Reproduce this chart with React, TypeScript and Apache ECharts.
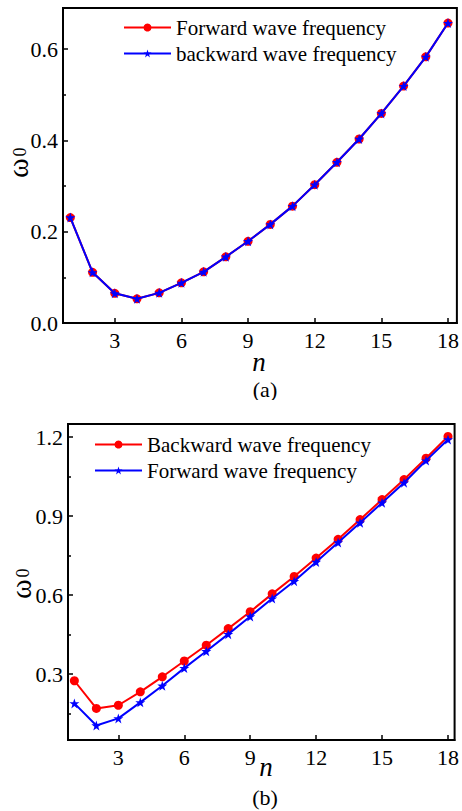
import React, { useEffect, useRef } from "react";
import * as echarts from "echarts";

const nValues = [1, 2, 3, 4, 5, 6, 7, 8, 9, 10, 11, 12, 13, 14, 15, 16, 17, 18];
const aForward = [0.231, 0.111, 0.065, 0.053, 0.066, 0.088, 0.112, 0.145, 0.179, 0.216, 0.256, 0.303, 0.352, 0.403, 0.459, 0.519, 0.583, 0.657];
const aBackward = [0.231, 0.111, 0.065, 0.053, 0.066, 0.088, 0.112, 0.145, 0.179, 0.216, 0.256, 0.303, 0.352, 0.403, 0.459, 0.519, 0.583, 0.657];
const bBackward = [0.275, 0.17, 0.182, 0.233, 0.29, 0.35, 0.41, 0.473, 0.537, 0.605, 0.671, 0.741, 0.812, 0.887, 0.963, 1.039, 1.12, 1.203];
const bForward = [0.189, 0.105, 0.132, 0.193, 0.256, 0.323, 0.387, 0.452, 0.519, 0.587, 0.653, 0.726, 0.8, 0.875, 0.951, 1.027, 1.111, 1.191];
const xTicks = [3, 6, 9, 12, 15, 18];
const aYTicks = [0, 0.2, 0.4, 0.6];
const aYMinor = [0.1, 0.3, 0.5];
const bYTicks = [0.3, 0.6, 0.9, 1.2];
const bYMinor = [0.15, 0.45, 0.75, 1.05];

const FONT = "Liberation Serif";
const STAR =
  "path://M50,0 L61.8,35.1 L98.9,35.1 L68.9,56.8 L80.2,91.9 L50,70.2 L19.8,91.9 L31.1,56.8 L1.1,35.1 L38.2,35.1 Z";

function toPairs(vals: number[]) {
  return nValues.map((n, i) => [n, vals[i]]);
}

type Cfg = {
  grid: { left: number; top: number; width: number; height: number };
  xMin: number;
  xMax: number;
  yMin: number;
  yMax: number;
  yTicks: number[];
  yMinor: number[];
  legend: { left: number; top: number };
  red: { name: string; data: number[]; size: number };
  blue: { name: string; data: number[]; size: number };
  omega: { x: number; y: number; sx: number; sy: number };
  nLabel: { x: number; y: number };
  tag: { text: string; x: number; y: number };
};

function txt(text: string, x: number, y: number, size: number, extra: any = {}) {
  return {
    type: "text",
    x,
    y,
    rotation: extra.rotation || 0,
    style: {
      text,
      fontFamily: FONT,
      fontSize: size,
      fontStyle: extra.italic ? "italic" : "normal",
      fill: "#000",
      align: "center",
      verticalAlign: "middle",
    },
  };
}

function buildOption(c: Cfg): any {
  return {
    animation: false,
    grid: { ...c.grid, show: true, borderColor: "#000", borderWidth: 2, backgroundColor: "transparent" },
    legend: {
      orient: "vertical",
      left: c.legend.left,
      top: c.legend.top,
      itemWidth: 47,
      itemHeight: 10,
      itemGap: 5,
      padding: 0,
      textStyle: { fontFamily: FONT, fontSize: 21, color: "#000", lineHeight: 21 },
      data: [c.red.name, c.blue.name],
    },
    xAxis: {
      type: "value",
      min: c.xMin,
      max: c.xMax,
      axisLine: { show: true, lineStyle: { color: "#000", width: 2 } },
      axisTick: { show: true, inside: true, length: 5, lineStyle: { color: "#000", width: 1.5 }, customValues: xTicks },
      axisLabel: { customValues: xTicks, fontFamily: FONT, fontSize: 22, color: "#000", margin: 6 },
      splitLine: { show: false },
    },
    yAxis: [
      {
        type: "value",
        min: c.yMin,
        max: c.yMax,
        axisLine: { show: true, lineStyle: { color: "#000", width: 2 } },
        axisTick: { show: true, inside: true, length: 5, lineStyle: { color: "#000", width: 1.5 }, customValues: c.yTicks },
        axisLabel: {
          customValues: c.yTicks,
          fontFamily: FONT,
          fontSize: 22,
          color: "#000",
          margin: 5,
          formatter: (v: number) => v.toFixed(1),
        },
        splitLine: { show: false },
      },
      {
        type: "value",
        min: c.yMin,
        max: c.yMax,
        position: "left",
        axisLine: { show: false },
        axisTick: { show: true, inside: true, length: 3, lineStyle: { color: "#000", width: 1.5 }, customValues: c.yMinor },
        axisLabel: { show: false },
        splitLine: { show: false },
      },
    ],
    series: [
      {
        name: c.red.name,
        type: "line",
        data: toPairs(c.red.data),
        symbol: "circle",
        symbolSize: c.red.size,
        lineStyle: { color: "#ff0000", width: 2 },
        itemStyle: { color: "#ff0000" },
        z: 2,
      },
      {
        name: c.blue.name,
        type: "line",
        data: toPairs(c.blue.data),
        symbol: STAR,
        symbolSize: c.blue.size,
        lineStyle: { color: "#0000ff", width: 2 },
        itemStyle: { color: "#0000ff" },
        z: 3,
      },
    ],
    graphic: [
      txt("ω", c.omega.x, c.omega.y, 30, { rotation: Math.PI / 2 }),
      txt("0", c.omega.sx, c.omega.sy, 18, { rotation: Math.PI / 2 }),
      txt("n", c.nLabel.x, c.nLabel.y, 27, { italic: true }),
      txt(c.tag.text, c.tag.x, c.tag.y, 22),
    ],
  };
}

const cfgA: Cfg = {
  grid: { left: 63, top: 8, width: 394, height: 315 },
  xMin: 0.67,
  xMax: 18.4,
  yMin: 0,
  yMax: 0.69,
  yTicks: aYTicks,
  yMinor: aYMinor,
  legend: { left: 123, top: 17 },
  red: { name: "Forward wave frequency", data: aForward, size: 9 },
  blue: { name: "backward wave frequency", data: aBackward, size: 10 },
  omega: { x: 17, y: 168, sx: 20, sy: 152 },
  nLabel: { x: 259, y: 362 },
  tag: { text: "(a)", x: 265, y: 389 },
};

const cfgB: Cfg = {
  grid: { left: 68, top: 24, width: 392, height: 316 },
  xMin: 0.71,
  xMax: 18.3,
  yMin: 0.05,
  yMax: 1.25,
  yTicks: bYTicks,
  yMinor: bYMinor,
  legend: { left: 94, top: 34 },
  red: { name: "Backward wave frequency", data: bBackward, size: 9 },
  blue: { name: "Forward wave frequency", data: bForward, size: 10 },
  omega: { x: 20, y: 189, sx: 23, sy: 173 },
  nLabel: { x: 266, y: 367 },
  tag: { text: "(b)", x: 265, y: 397 },
};

function Chart({ cfg, top, height }: { cfg: Cfg; top: number; height: number }) {
  const ref = useRef<HTMLDivElement>(null);
  useEffect(() => {
    if (!ref.current) return;
    const chart = echarts.init(ref.current, undefined, { renderer: "svg" });
    chart.setOption(buildOption(cfg));
    return () => chart.dispose();
  }, [cfg]);
  return <div ref={ref} style={{ position: "absolute", left: 0, top, width: 462, height }} />;
}

export default function App() {
  return (
    <div style={{ position: "fixed", left: 0, top: 0, width: 462, height: 811, background: "#fff" }}>
      <Chart cfg={cfgA} top={0} height={400} />
      <Chart cfg={cfgB} top={400} height={411} />
    </div>
  );
}
